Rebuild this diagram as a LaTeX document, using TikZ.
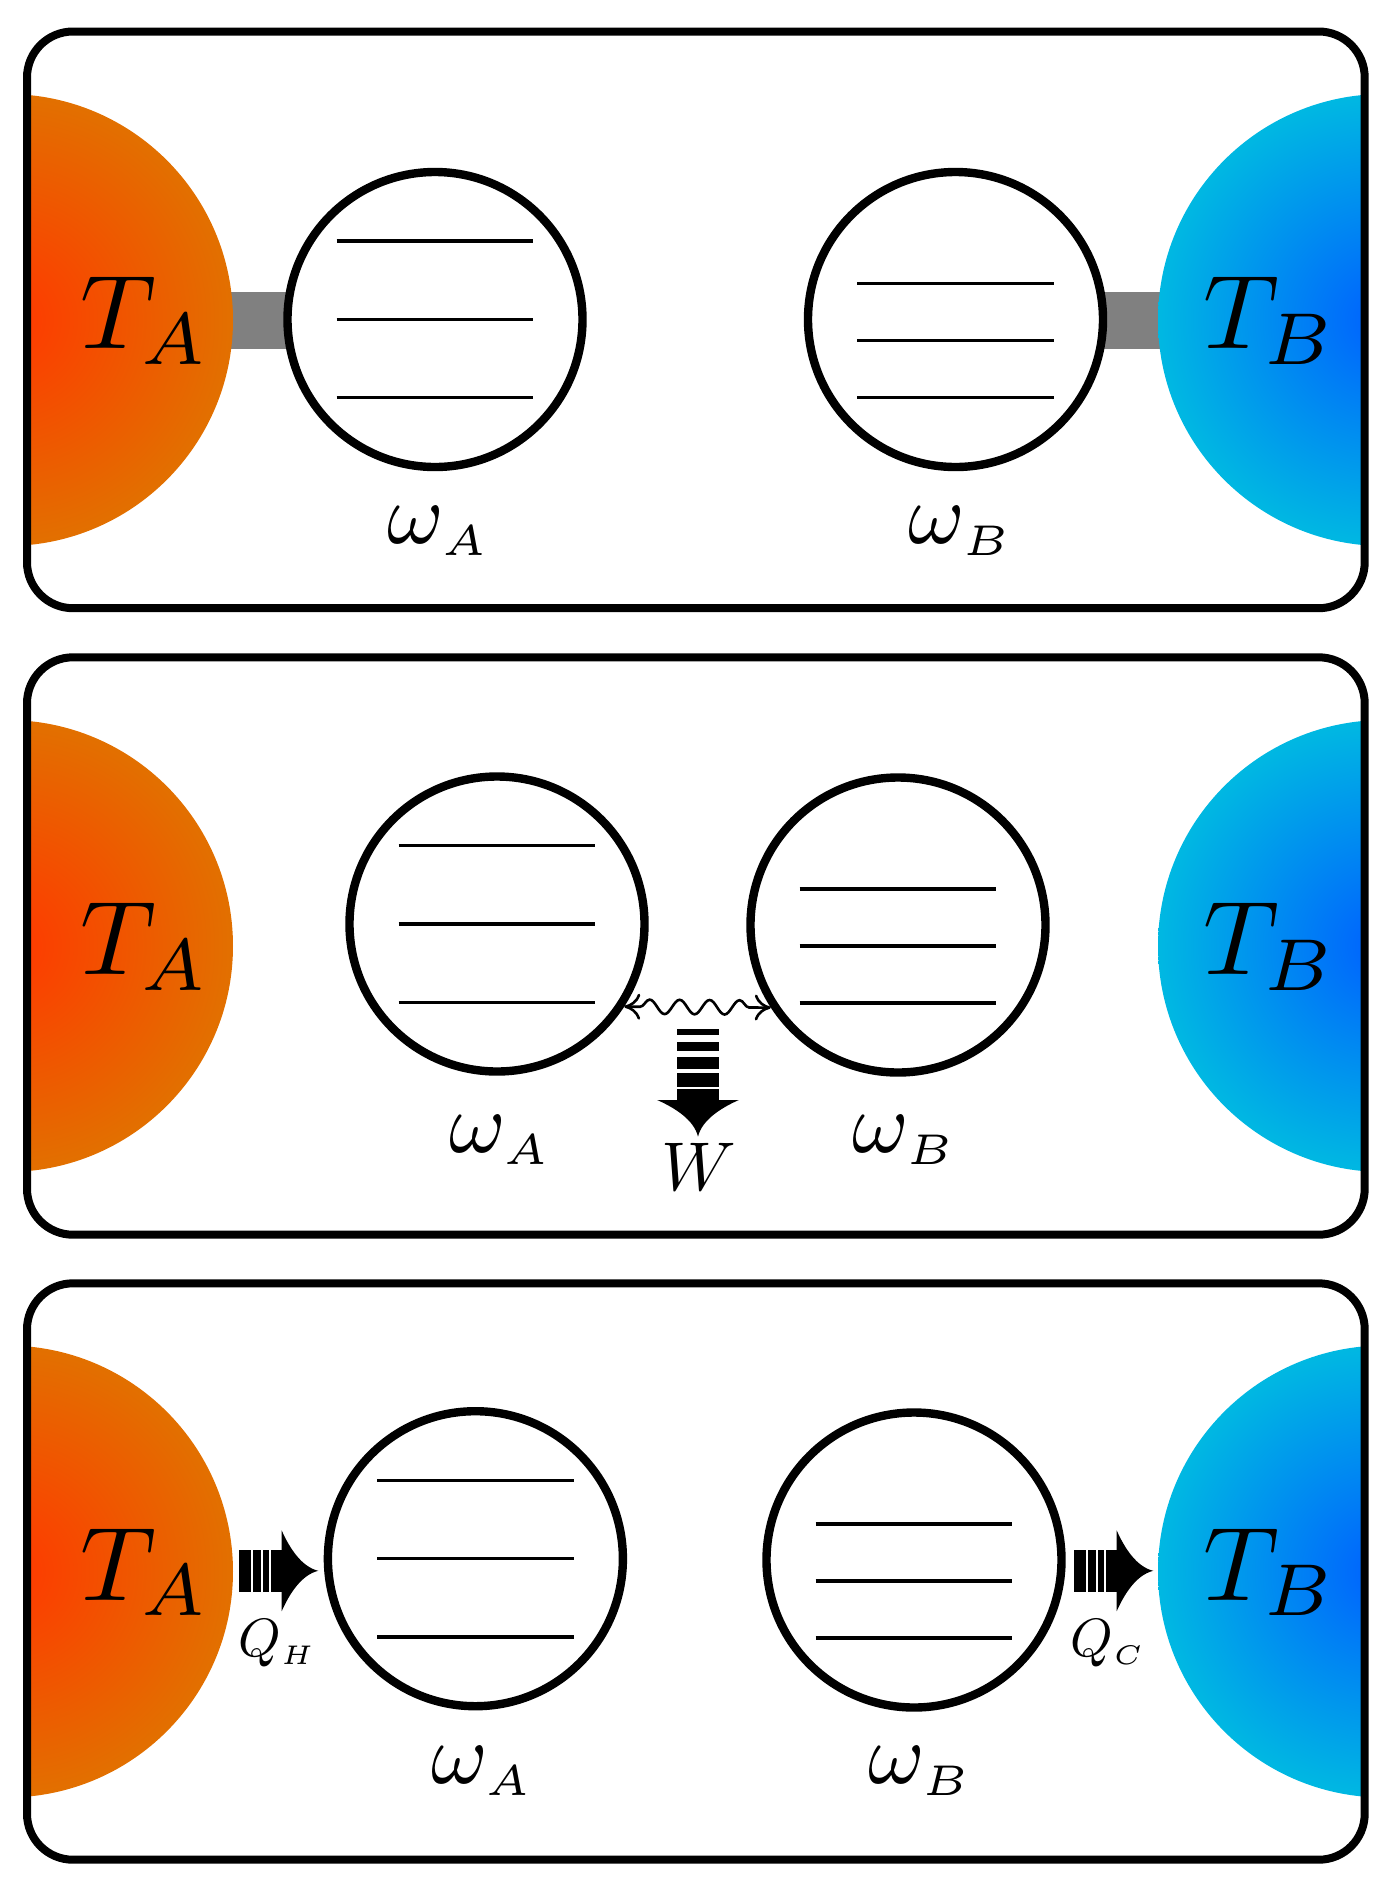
\documentclass[tikz,border=0pt]{standalone}
\usepackage{graphicx}
\usetikzlibrary{decorations.pathmorphing,arrows.meta,calc}
\definecolor{hotin}{RGB}{255,56,0}
\definecolor{hotout}{RGB}{226,112,0}
\definecolor{coldin}{RGB}{0,96,255}
\definecolor{coldout}{RGB}{0,184,226}
\tikzset{
  frame/.style={line width=4pt, rounded corners=23pt},
  osc/.style={circle, draw, line width=4.2pt, minimum size=147.5pt, inner sep=0pt, fill=white},
  level/.style={line width=1.65pt},
  couple/.style={fill=gray},
  lab/.style={anchor=base, inner sep=0pt},
  wave/.style={line width=1.3pt, {To[length=8pt,width=13pt]}-{To[length=8pt,width=13pt]},
    decorate, decoration={snake, amplitude=3.6pt, segment length=15pt, pre length=8pt, post length=8pt}}
}
\newcommand{\tlabel}[1]{\scalebox{5.25}{$T_{#1}$}}
\newcommand{\wlabel}[1]{\scalebox{4.3}{$\omega_{\scriptscriptstyle #1}$}}
\newcommand{\qlabel}[1]{\scalebox{2.7}{$Q_{\scriptscriptstyle #1}$}}
\newcommand{\drawlevels}[2]{\foreach \dy in {#2}{\draw[level] ($(#1)+(-98.3,\dy)$) -- ($(#1)+(98.3,\dy)$);}}
\newcommand{\bathpanel}[3]{%
  \begin{scope}
    \clip[rounded corners=23pt] (27,#1) rectangle (1364.7,#2);
    \shade[inner color=hotin, outer color=hotout] (7,#3) circle[radius=226];
    \shade[inner color=coldin, outer color=coldout] (1384,#3) circle[radius=226];
  \end{scope}
  \draw[frame] (27,#1) rectangle (1364.7,#2);}
\newcommand{\heatarrowH}[2]{%
  \begin{scope}[shift={(#1,#2)}]
    \fill (0,-20.85) rectangle (12,20.85);
    \fill (14.3,-20.85) rectangle (22.3,20.85);
    \fill (24.3,-20.85) rectangle (30.3,20.85);
    \fill (31.7,-20.85) rectangle (43.2,20.85);
    \fill (42.7,-40.4) .. controls (50.7,-22.4) and (62.7,-3.9) .. (79.3,0)
          .. controls (62.7,3.9) and (50.7,22.4) .. (42.7,40.4) -- cycle;
  \end{scope}}
\begin{document}
\begin{tikzpicture}[x=0.5pt,y=-0.5pt]
\useasboundingbox (0,0) rectangle (1397,1891);

% ---------------- panel 1 ----------------
\fill[couple] (215,291.7) rectangle (300,349.3);
\fill[couple] (1090,291.7) rectangle (1175,349.3);
\bathpanel{31.5}{608.2}{320}
\node[osc] (A1) at (435,319.5) {};
\node[osc] (B1) at (955.5,319.5) {};
\drawlevels{A1}{-78.5,0,78.3}
\drawlevels{B1}{-36,21,78}
\node[lab] (TA1) at (145,348.3) {\tlabel{A}};
\node[lab] (TB1) at (1270,348.3) {\tlabel{B}};
\node[lab] (wA1) at (439,543) {\wlabel{A}};
\node[lab] (wB1) at (961,543) {\wlabel{B}};

% ---------------- panel 2 ----------------
\bathpanel{657.3}{1234.7}{946}
\node[osc] (A2) at (497,924) {};
\node[osc] (B2) at (898,925) {};
\drawlevels{A2}{-78.5,0,78.3}
\drawlevels{B2}{-36,21,78}
\node[lab] (TA2) at (145,974.3) {\tlabel{A}};
\node[lab] (TB2) at (1270,974.3) {\tlabel{B}};
\node[lab] (wA2) at (500.6,1152) {\wlabel{A}};
\node[lab] (wB2) at (904.8,1152) {\wlabel{B}};
\draw[wave] (A2.-33) -- (B2.-147);
\begin{scope}[shift={(698,1029)}]
  \fill (-20.85,0) rectangle (20.85,6);
  \fill (-20.85,13.3) rectangle (20.85,22);
  \fill (-20.85,27.7) rectangle (20.85,40.3);
  \fill (-20.85,44.3) rectangle (20.85,57.7);
  \fill (-20.85,60.3) rectangle (20.85,71.5);
  \fill (-40.8,71) .. controls (-22.8,79) and (-3.9,91) .. (0,107.7)
        .. controls (3.9,91) and (22.8,79) .. (40.8,71) -- cycle;
\end{scope}
\node[lab] (W) at (699,1190) {\scalebox{3.45}{$W$}};

% ---------------- panel 3 ----------------
\bathpanel{1283.3}{1859.7}{1571.5}
\node[osc] (A3) at (475.4,1558.7) {};
\node[osc] (B3) at (914,1560) {};
\drawlevels{A3}{-78.5,0,78.3}
\drawlevels{B3}{-36,21,78}
\node[lab] (TA3) at (145,1600) {\tlabel{A}};
\node[lab] (TB3) at (1270,1600) {\tlabel{B}};
\node[lab] (wA3) at (482.5,1783) {\wlabel{A}};
\node[lab] (wB3) at (920.5,1783) {\wlabel{B}};
\heatarrowH{239}{1570.8}
\heatarrowH{1074}{1570.8}
\node[lab] (QH) at (277,1656.7) {\qlabel{H}};
\node[lab] (QC) at (1108,1656.7) {\qlabel{C}};
\end{tikzpicture}
\end{document}
